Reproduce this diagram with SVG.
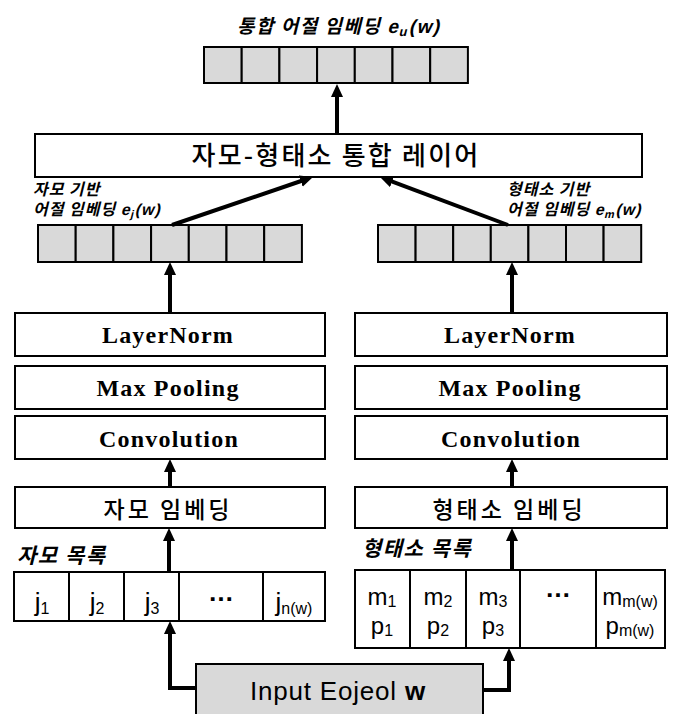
<svg xmlns="http://www.w3.org/2000/svg" width="675" height="714" viewBox="0 0 675 714">
  <defs>
    <marker id="arrow" viewBox="0 0 13 12" markerWidth="13" markerHeight="12" markerUnits="userSpaceOnUse" refX="2" refY="6" orient="auto">
      <path d="M0,0 L13,6 L0,12 z" fill="#000"/>
    </marker>
    <style>
      .box { fill: #fff; stroke: #000; stroke-width: 2; }
      .cell { fill: #d9d9d9; stroke: #000; stroke-width: 2; }
      .wcell { fill: #fff; stroke: #000; stroke-width: 2; }
      .input { fill: #d9d9d9; stroke: #000; stroke-width: 2; }
      .conn { fill: none; stroke: #000; stroke-width: 4; marker-end: url(#arrow); }
      .layer { font-family: "Liberation Serif", "Times New Roman", serif; font-weight: bold; font-size: 24px; letter-spacing: 1.2px; text-anchor: middle; }
      .kr { font-family: "Noto Sans CJK KR", "Noto Sans", sans-serif; font-weight: 500; text-anchor: middle; }
      .lbl { font-family: "Liberation Sans", Arial, sans-serif; font-weight: bold; }
      .lblkr { font-family: "Noto Sans CJK KR", sans-serif; font-weight: bold; }
      .sym { font-family: "Liberation Sans", Arial, sans-serif; font-size: 26px; text-anchor: middle; }
      .sym2 { font-family: "Liberation Sans", Arial, sans-serif; font-size: 24px; text-anchor: middle; }
      .sub { font-size: 16px; }
      .dots { font-weight: bold; }
    </style>
  </defs>

  <!-- unified eojeol embedding -->
  <g id="unified-embedding">
    <text transform="translate(237,33) skewX(-14)" font-size="19" letter-spacing="1.5"><tspan class="lblkr">통합 어절 임베딩 </tspan><tspan class="lbl">e</tspan><tspan class="lbl" font-size="13" dy="3">u</tspan><tspan class="lbl" dy="-3">(w)</tspan></text>
    <rect class="cell" x="204" y="47" width="37.7" height="36"/>
    <rect class="cell" x="241.7" y="47" width="37.7" height="36"/>
    <rect class="cell" x="279.4" y="47" width="37.7" height="36"/>
    <rect class="cell" x="317.1" y="47" width="37.7" height="36"/>
    <rect class="cell" x="354.8" y="47" width="37.7" height="36"/>
    <rect class="cell" x="392.5" y="47" width="37.7" height="36"/>
    <rect class="cell" x="430.2" y="47" width="37.7" height="36"/>
  </g>

  <!-- jamo-morpheme integration layer -->
  <g id="integration-layer">
    <rect class="box" x="35" y="134" width="607" height="43"/>
    <text class="kr" x="336" y="165" font-size="26" letter-spacing="2.2">자모-형태소 통합 레이어</text>
  </g>

  <!-- jamo-based eojeol embedding -->
  <g id="jamo-embedding-vector">
    <text transform="translate(33,195) skewX(-14)" font-size="16" letter-spacing="1" class="lblkr">자모 기반</text>
    <text transform="translate(33,215) skewX(-14)" font-size="16" letter-spacing="1"><tspan class="lblkr">어절 임베딩 </tspan><tspan class="lbl">e</tspan><tspan class="lbl" font-size="11" dy="3">j</tspan><tspan class="lbl" dy="-3">(w)</tspan></text>
    <rect class="cell" x="38" y="225" width="37.7" height="37"/>
    <rect class="cell" x="75.7" y="225" width="37.7" height="37"/>
    <rect class="cell" x="113.4" y="225" width="37.7" height="37"/>
    <rect class="cell" x="151.1" y="225" width="37.7" height="37"/>
    <rect class="cell" x="188.8" y="225" width="37.7" height="37"/>
    <rect class="cell" x="226.5" y="225" width="37.7" height="37"/>
    <rect class="cell" x="264.2" y="225" width="37.7" height="37"/>
  </g>

  <!-- morpheme-based eojeol embedding -->
  <g id="morph-embedding-vector">
    <text transform="translate(507,195) skewX(-14)" font-size="16" letter-spacing="1" class="lblkr">형태소 기반</text>
    <text transform="translate(507,215) skewX(-14)" font-size="16" letter-spacing="1"><tspan class="lblkr">어절 임베딩 </tspan><tspan class="lbl">e</tspan><tspan class="lbl" font-size="11" dy="3">m</tspan><tspan class="lbl" dy="-3">(w)</tspan></text>
    <rect class="cell" x="378" y="225" width="37.6" height="37"/>
    <rect class="cell" x="415.6" y="225" width="37.6" height="37"/>
    <rect class="cell" x="453.2" y="225" width="37.6" height="37"/>
    <rect class="cell" x="490.8" y="225" width="37.6" height="37"/>
    <rect class="cell" x="528.4" y="225" width="37.6" height="37"/>
    <rect class="cell" x="566" y="225" width="37.6" height="37"/>
    <rect class="cell" x="603.6" y="225" width="37.6" height="37"/>
  </g>

  <!-- jamo branch -->
  <g id="jamo-layernorm">
    <rect class="box" x="15" y="313" width="310" height="43"/>
    <text class="layer" x="168" y="343">LayerNorm</text>
  </g>
  <g id="jamo-maxpool">
    <rect class="box" x="15" y="366" width="310" height="43"/>
    <text class="layer" x="168" y="396">Max Pooling</text>
  </g>
  <g id="jamo-conv">
    <rect class="box" x="15" y="416" width="310" height="43"/>
    <text class="layer" x="169" y="447">Convolution</text>
  </g>
  <g id="jamo-embedding">
    <rect class="box" x="15" y="487" width="310" height="41"/>
    <text class="kr" x="168" y="518" font-size="23" letter-spacing="3">자모 임베딩</text>
  </g>

  <!-- morpheme branch -->
  <g id="morph-layernorm">
    <rect class="box" x="355" y="313" width="312" height="43"/>
    <text class="layer" x="510" y="343">LayerNorm</text>
  </g>
  <g id="morph-maxpool">
    <rect class="box" x="355" y="366" width="312" height="43"/>
    <text class="layer" x="510" y="396">Max Pooling</text>
  </g>
  <g id="morph-conv">
    <rect class="box" x="355" y="416" width="312" height="43"/>
    <text class="layer" x="511" y="447">Convolution</text>
  </g>
  <g id="morph-embedding">
    <rect class="box" x="355" y="487" width="312" height="41"/>
    <text class="kr" x="509" y="518" font-size="23" letter-spacing="3">형태소 임베딩</text>
  </g>

  <!-- jamo list -->
  <g id="jamo-list">
    <text transform="translate(17,563) skewX(-14)" font-size="21" letter-spacing="1.5" class="lblkr">자모 목록</text>
    <rect class="wcell" x="14" y="572" width="55" height="49"/>
    <rect class="wcell" x="69" y="572" width="55" height="49"/>
    <rect class="wcell" x="124" y="572" width="55" height="49"/>
    <rect class="wcell" x="179" y="572" width="84" height="49"/>
    <rect class="wcell" x="263" y="572" width="62" height="49"/>
    <text class="sym" x="42" y="611">j<tspan class="sub" dy="3">1</tspan></text>
    <text class="sym" x="97" y="611">j<tspan class="sub" dy="3">2</tspan></text>
    <text class="sym" x="152" y="611">j<tspan class="sub" dy="3">3</tspan></text>
    <text class="sym dots" x="221" y="601">…</text>
    <text class="sym" x="294" y="611">j<tspan class="sub" dy="3">n(w)</tspan></text>
  </g>

  <!-- morpheme list -->
  <g id="morph-list">
    <text transform="translate(362,556) skewX(-14)" font-size="21" letter-spacing="1.5" class="lblkr">형태소 목록</text>
    <rect class="wcell" x="355" y="570" width="55" height="78"/>
    <rect class="wcell" x="410" y="570" width="56" height="78"/>
    <rect class="wcell" x="466" y="570" width="54" height="78"/>
    <rect class="wcell" x="520" y="570" width="76" height="78"/>
    <rect class="wcell" x="596" y="570" width="69" height="78"/>
    <text class="sym2" x="382" y="605">m<tspan class="sub" dy="2">1</tspan></text>
    <text class="sym2" x="382" y="634">p<tspan class="sub" dy="2">1</tspan></text>
    <text class="sym2" x="438" y="605">m<tspan class="sub" dy="2">2</tspan></text>
    <text class="sym2" x="438" y="634">p<tspan class="sub" dy="2">2</tspan></text>
    <text class="sym2" x="493" y="605">m<tspan class="sub" dy="2">3</tspan></text>
    <text class="sym2" x="493" y="634">p<tspan class="sub" dy="2">3</tspan></text>
    <text class="sym dots" x="558" y="597">…</text>
    <text class="sym2" x="630" y="605">m<tspan class="sub" dy="2">m(w)</tspan></text>
    <text class="sym2" x="630" y="634">p<tspan class="sub" dy="2">m(w)</tspan></text>
  </g>

  <!-- input -->
  <g id="input-eojeol">
    <rect class="input" x="196" y="664" width="287" height="52"/>
    <text x="338" y="700" font-family="Liberation Sans, Arial, sans-serif" font-size="26" letter-spacing="0.8" text-anchor="middle">Input Eojeol <tspan font-weight="bold">w</tspan></text>
  </g>

  <!-- connectors -->
  <g id="connectors">
    <path class="conn" d="M337,134 V95"/>
    <path class="conn" d="M172,225 L302.6,180.5"/>
    <path class="conn" d="M508,225 L390.3,180.9"/>
    <path class="conn" d="M170,313 V273"/>
    <path class="conn" d="M512,313 V273"/>
    <path class="conn" d="M170,487 V470"/>
    <path class="conn" d="M512,487 V470"/>
    <path class="conn" d="M169,572 V539"/>
    <path class="conn" d="M512,570 V539"/>
    <path class="conn" d="M196,688 H170 V632"/>
    <path class="conn" d="M483,690 H509 V659"/>
  </g>
</svg>
